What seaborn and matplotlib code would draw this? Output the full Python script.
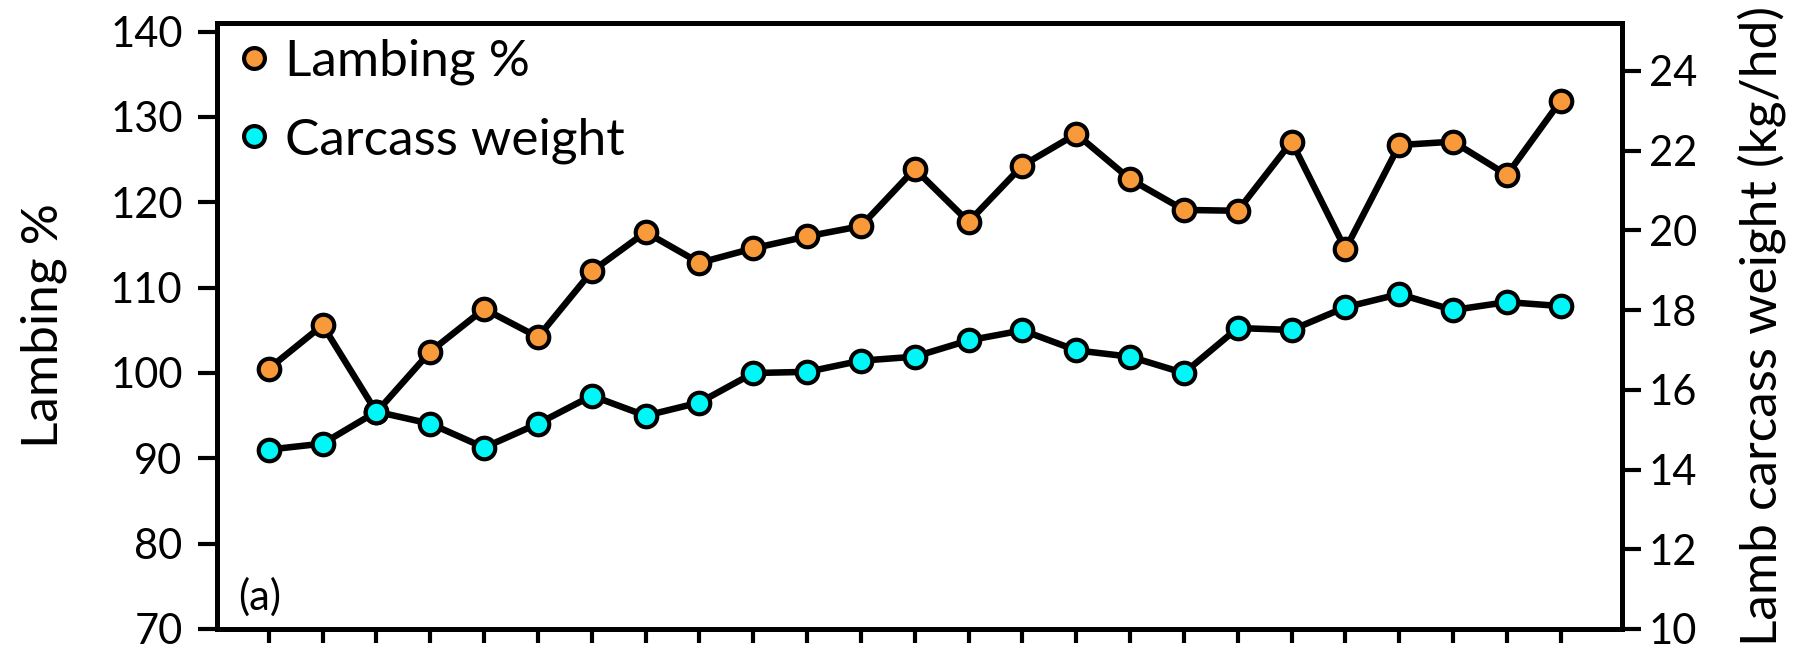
import matplotlib
matplotlib.use('Agg')
import seaborn as sns
import numpy as np
import pandas as pd
import matplotlib.pyplot as plt
from matplotlib.lines import Line2D

# values (25 seasons, unlabelled x axis)
season = list(range(25))
lambing_pct = [100.5, 105.6, 95.4, 102.5, 107.5, 104.2, 111.9, 116.5, 112.9, 114.6,
               116.0, 117.2, 123.9, 117.7, 124.3, 128.0, 122.7, 119.1, 119.0, 127.1,
               114.5, 126.7, 127.1, 123.2, 131.9]
carcass_wt = [14.5, 14.65, 15.45, 15.15, 14.55, 15.15, 15.85, 15.35, 15.68, 16.42,
              16.45, 16.73, 16.83, 17.24, 17.49, 16.99, 16.83, 16.42, 17.55, 17.5,
              18.07, 18.4, 18.0, 18.2, 18.1]

orange = '#F8993A'
cyan = '#00F7F7'

sns.set_style("ticks")
plt.rcParams['font.family'] = ['Lato', 'DejaVu Sans']
plt.rcParams['text.color'] = 'black'
plt.rcParams['axes.labelcolor'] = 'black'

df = pd.DataFrame({"season": season, "lambing": lambing_pct, "carcass": carcass_wt})

fig = plt.figure(figsize=(17.93, 6.63), dpi=100)
ax = fig.add_axes([0.1208, 0.0513, 0.7836, 0.9140])
ax2 = ax.twinx()

line_kw = dict(color='black', linewidth=4.7, marker='o', markersize=15.5,
               markeredgecolor='black', markeredgewidth=3)
sns.lineplot(data=df, x="season", y="lambing", ax=ax, markerfacecolor=orange, **line_kw)
sns.lineplot(data=df, x="season", y="carcass", ax=ax2, markerfacecolor=cyan, **line_kw)

ax.set_xlim(-0.97, 25.13)
ax.set_ylim(70, 141)
ax2.set_ylim(10, 25.2)
ax.set_xticks(season)
ax.set_xticklabels([])
ax.set_xlabel("")
ax.set_yticks(np.arange(70, 141, 10))
ax2.set_yticks(np.arange(10, 25, 2))

for a in (ax, ax2):
    for s in a.spines.values():
        s.set_linewidth(3.5)
        s.set_color('black')
    a.tick_params(axis='x', width=3, length=10, colors='black')
ax.tick_params(axis='y', labelsize=30, width=3, length=13.5, pad=11, colors='black')
ax2.tick_params(axis='y', labelsize=30, width=3, length=13.5, pad=6, colors='black')

ax.set_ylabel("Lambing %", fontsize=37)
ax.yaxis.set_label_coords(-0.1065, 0.5)
ax2.set_ylabel("Lamb carcass weight (kg/hd)", fontsize=37)
ax2.yaxis.set_label_coords(1.082, 0.5)

handles = [Line2D([], [], linestyle='none', marker='o', markersize=15, markeredgewidth=3,
                  markeredgecolor='black', markerfacecolor=c) for c in (orange, cyan)]
ax.legend(handles, ["Lambing %", "Carcass weight"], loc='upper left', frameon=False,
          fontsize=37, handlelength=0.6, handletextpad=0.3, labelspacing=0.62,
          borderaxespad=0.2, bbox_to_anchor=(-0.006, 1.025))

ax.text(0.0152, 0.02, "(a)", transform=ax.transAxes, fontsize=30, va='bottom', ha='left')

fig.savefig("out.png", dpi=100)
